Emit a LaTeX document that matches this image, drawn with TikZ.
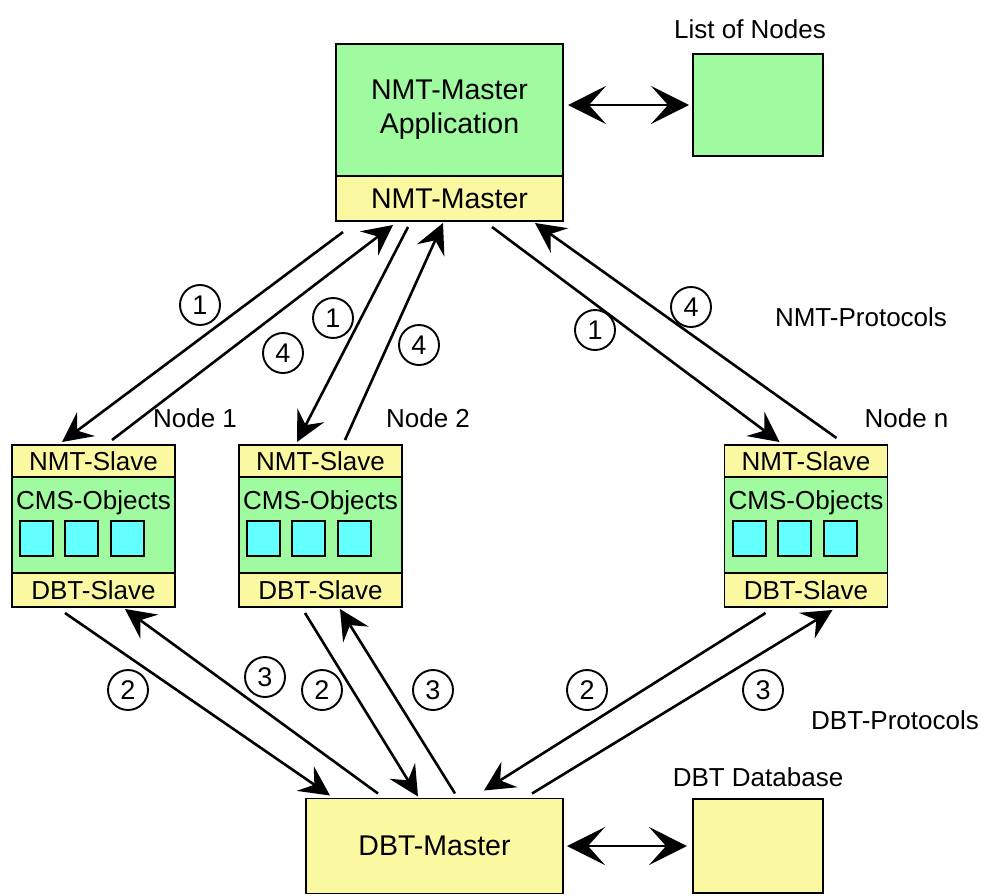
\documentclass[tikz,border=0pt]{standalone}
\usepackage{fontspec}
\setmainfont{Liberation Sans}
\usepackage{tikz}
\usetikzlibrary{arrows.meta,positioning}
\definecolor{nmtgreen}{RGB}{160,250,160}
\definecolor{dbtyellow}{RGB}{250,248,160}
\definecolor{objcyan}{RGB}{100,255,255}

\begin{document}
\begin{tikzpicture}[
    x=1pt, y=-1pt,
    box/.style={draw, line width=1.8pt, inner sep=0pt, outer sep=0pt,
                font=\fontsize{26}{30}\selectfont, align=center},
    gbox/.style={box, fill=nmtgreen},
    ybox/.style={box, fill=dbtyellow},
    big/.style={font=\fontsize{28.5}{34}\selectfont},
    obj/.style={draw, line width=2pt, fill=objcyan, inner sep=0pt,
                minimum width=33pt, minimum height=35pt},
    lbl/.style={font=\fontsize{26}{30}\selectfont},
    num/.style={draw, circle, line width=1.9pt, minimum size=40pt,
                inner sep=0pt, font=\fontsize{27}{30}\selectfont},
    arr/.style={-{Stealth[length=30pt,width=30pt,inset=11pt]}, line width=2.6pt},
    dbl/.style={{Stealth[length=38pt,width=38pt,inset=17pt]}-{Stealth[length=38pt,width=38pt,inset=17pt]},
                line width=2.2pt}
]
\useasboundingbox (0,0) rectangle (981,895);

\node[gbox, big, minimum width=227pt, minimum height=132pt] (app) at (449.5,110) {NMT-Master\\Application};
\node[ybox, big, below=0pt of app, minimum width=227pt, minimum height=45pt] (nmtm) {NMT-Master};
\node[gbox, minimum width=130pt, minimum height=102pt] (list) at (758,105) {};
\node[lbl, above=12pt of list, xshift=-8pt] (listlbl) {List of Nodes};
\draw[dbl, shorten <=5pt, shorten >=4pt] (list.west -| app.east) -- (list.west);

\foreach \n/\x/\d in {1/93.5/20, 2/320.5/26, n/806/19} {
  \node[ybox, minimum width=163pt, minimum height=32pt] (nmt\n) at (\x,461) {NMT-Slave};
  \node[gbox, below=0pt of nmt\n, minimum width=163pt, minimum height=96pt] (cms\n) {};
  \node[ybox, below=0pt of cms\n, minimum width=163pt, minimum height=34pt] (dbt\n) {DBT-Slave};
  \node[lbl] (cmslbl\n) at ([yshift=-26pt]cms\n.north) {CMS-Objects};
  \foreach \k/\dx in {1/-57, 2/-12, 3/34}
    \node[obj] (obj\n\k) at ([xshift=\dx pt, yshift=-61pt]cms\n.north) {};
  \node[lbl] (name\n) at ([xshift=\d pt, yshift=27pt]nmt\n.north east) {Node \n};
}

\node[ybox, big, minimum width=257pt, minimum height=95pt] (dbtm) at (434.5,846) {DBT-Master};
\node[ybox, minimum width=130pt, minimum height=94pt] (dbase) at (758,846) {};
\node[lbl, above=9pt of dbase] (dbaselbl) {DBT Database};
\draw[dbl, shorten <=4pt, shorten >=6pt] (dbtm.east) -- (dbase.west);

\draw[arr] ([xshift=7pt,yshift=-11pt]nmtm.south west) -- ([xshift=50pt,yshift=3pt]nmt1.north west);
\draw[arr] ([xshift=100pt,yshift=5pt]nmt1.north west) -- ([xshift=57pt,yshift=-4pt]nmtm.south west);
\draw[arr] ([xshift=72pt,yshift=-6pt]nmtm.south west) -- ([xshift=58pt,yshift=3pt]nmt2.north west);
\draw[arr] ([xshift=106pt,yshift=5pt]nmt2.north west) -- ([xshift=107pt,yshift=-2pt]nmtm.south west);
\draw[arr] ([xshift=156pt,yshift=-6pt]nmtm.south west) -- ([xshift=55pt,yshift=3pt]nmtn.north west);
\draw[arr] ([xshift=112pt,yshift=7pt]nmtn.north west) -- ([xshift=199pt,yshift=-2pt]nmtm.south west);

\draw[arr] ([xshift=53pt,yshift=-6pt]dbt1.south west) -- ([xshift=24pt,yshift=3pt]dbtm.north west);
\draw[arr] ([xshift=72pt,yshift=5pt]dbtm.north west) -- ([xshift=113pt,yshift=-2pt]dbt1.south west);
\draw[arr] ([xshift=66pt,yshift=-6pt]dbt2.south west) -- ([xshift=112pt,yshift=2pt]dbtm.north west);
\draw[arr] ([xshift=149pt,yshift=5pt]dbtm.north west) -- ([xshift=101pt,yshift=-2pt]dbt2.south west);
\draw[arr] ([xshift=41pt,yshift=-6pt]dbtn.south west) -- ([xshift=178pt,yshift=8pt]dbtm.north west);
\draw[arr] ([xshift=226pt,yshift=5pt]dbtm.north west) -- ([xshift=108pt,yshift=-3pt]dbtn.south west);

\node[num] (n1a) at (200,305) {1};
\node[num] (n1b) at (283,353) {4};
\node[num] (n2a) at (333,318) {1};
\node[num] (n2b) at (419,345) {4};
\node[num] (nna) at (595,330) {1};
\node[num] (nnb) at (691,307) {4};
\node[num] (d1a) at (128,690) {2};
\node[num] (d1b) at (265,677) {3};
\node[num] (d2a) at (322,690) {2};
\node[num] (d2b) at (433,690) {3};
\node[num] (dna) at (587,690) {2};
\node[num] (dnb) at (763,690) {3};

\node[lbl] (nmtproto) at (861,317) {NMT-Protocols};
\node[lbl] (dbtproto) at (895,720) {DBT-Protocols};
\end{tikzpicture}
\end{document}
